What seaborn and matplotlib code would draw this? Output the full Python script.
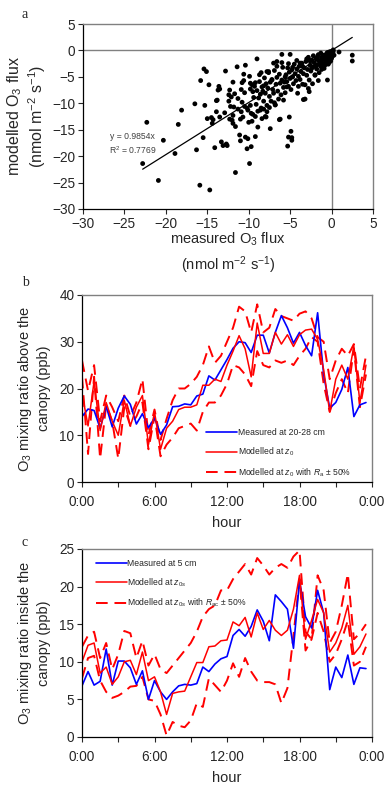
import numpy as np
import pandas as pd
import matplotlib
matplotlib.use("Agg")
import matplotlib.pyplot as plt
import seaborn as sns
from matplotlib.lines import Line2D

sns.set_style("ticks")
plt.rcParams['font.family'] = ['Liberation Sans', 'DejaVu Sans']
plt.rcParams['mathtext.fontset'] = 'custom'
plt.rcParams['mathtext.rm'] = 'Liberation Sans'
plt.rcParams['mathtext.it'] = 'Liberation Sans:italic'

# ---------------- panel a data (measured vs modelled O3 flux) ----------------
measured_flux = [
    -22.8, -22.3, -20.9, -20.3, -18.9, -18.5, -18.1, -16.5, -16.3, -15.9, -15.8, -15.5, -15.4, -15.3, -15.1,
    -15.0, -14.8, -14.7, -14.5, -14.4, -14.3, -14.1, -13.9, -13.8, -13.7, -13.6, -13.5, -13.3, -13.1, -12.8,
    -12.7, -12.6, -12.3, -12.2, -12.1, -12.0, -11.9, -11.8, -11.6, -11.4, -11.3, -11.1, -11.0, -11.0, -10.9,
    -10.6, -10.6, -10.4, -10.4, -10.2, -10.1, -9.9, -9.7, -9.2, -9.0, -8.9, -7.4, -6.3, -6.0, -5.0,
    -5.1, -5.2, -4.9, -4.8, -4.8, -5.3, -1.6, 0.9, 2.5, 2.5,
    -13.5, -13.9, -12.3, -12.4, -11.9, -10.8, -9.8, -9.5, -8.7, -8.2, -7.6, -7.2, -6.6, -5.6, -5.4,
    -2.0, -0.5, -2.7, -3.4, -10.5, -10.1, -9.7, -9.2, -8.6, -8.0, -7.8, -6.8, -6.2, -11.6,
    -9.8, -9.6, -9.4, -9.3, -9.1, -9.0, -8.8, -8.7, -8.6, -8.5, -8.4, -8.3, -8.2, -8.1, -8.0,
    -7.9, -7.8, -7.7, -7.6, -7.5, -7.4, -7.3, -7.2, -7.1, -7.0, -6.9, -6.8, -6.7, -6.6, -6.5,
    -6.4, -6.3, -6.2, -6.1, -6.0, -5.9, -5.8, -5.7, -5.6, -5.5, -5.4, -5.3, -5.2, -5.1, -5.0,
    -4.9, -4.8, -4.7, -4.6, -4.5, -4.4, -4.3, -4.2, -4.1, -4.0, -3.9, -3.8, -3.7, -3.6, -3.5,
    -3.4, -3.3, -3.2, -3.1, -3.0, -2.9, -2.8, -2.7, -2.6, -2.5, -2.4, -2.3, -2.2, -2.1, -2.0,
    -1.9, -1.8, -1.7, -1.6, -1.5, -1.4, -1.3, -1.2, -1.1, -1.0, -0.9, -0.8, -0.7, -0.6, -0.5,
    -0.4, -0.3, -0.2, -0.1, 0.0, 0.1, 0.2, 0.3,
    -2.2, -1.9, -1.6, -1.3, -1.1, -0.9, -0.8, -0.6, -0.5, -0.4, -0.3, -0.2, -0.1, 0.0, 0.1,
    -2.6, -3.0, -3.5, -2.4, -1.7, -1.4, -1.2, -0.7, -0.3, 0.2, -3.8, -4.2, -4.7, -5.2, -6.0,
    -6.6, -7.0, -7.8, -8.5, -3.2, -2.8, -4.0, -5.8, -6.9, -7.5, -8.2, -8.9, -9.5, -7.9, -8.4,
    -9.8, -10.2, -10.8, -11.3, -10.5, -9.9, -9.2, -10.9, -11.7, -12.4, -12.9, -11.9, -10.7, -9.6, -10.0,
]
modelled_flux = [
    -21.4, -13.6, -24.6, -17.0, -19.5, -14.0, -11.3, -10.1, -18.8, -25.5, -5.7, -16.5, -3.5, -10.4, -4.0,
    -12.9, -6.5, -26.4, -12.7, -13.8, -13.1, -18.4, -11.6, -9.4, -7.5, -6.8, -12.6, -17.3, -18.0, -3.9,
    -17.7, -18.0, -13.0, -10.6, -8.8, -13.2, -13.8, -10.7, -23.1, -3.1, -11.1, -16.0, -17.1, -13.0, -11.6,
    -5.7, -4.5, -2.8, -16.4, -18.6, -16.7, -21.4, -18.2, -16.3, -1.6, -14.5, -14.8, -13.1, -0.75, -0.75,
    -12.6, -16.4, -15.3, -16.5, -17.0, -18.1, -5.7, -0.3, -0.9, -2.0,
    -7.3, -9.5, -7.5, -8.4, -6.0, -6.1, -6.2, -7.8, -4.6, -6.7, -4.2, -5.6, -2.1, -5.0, -6.9,
    -4.7, -5.6, -7.8, -9.3, -10.6, -11.3, -11.9, -12.5, -11.3, -12.5, -11.6, -10.3, -13.0, -14.4,
    -7.3, -6.5, -8.9, -6.8, -10.2, -7.6, -9.0, -5.9, -8.3, -10.9, -6.9, -7.7, -9.6, -5.2, -8.1,
    -6.3, -10.4, -7.1, -4.0, -8.7, -6.0, -9.6, -5.5, -7.4, -8.1, -3.8, -10.3, -6.4, -5.1, -7.7,
    -9.2, -4.5, -6.2, -8.4, -5.6, -3.2, -7.0, -6.0, -8.0, -4.6, -5.9, -3.3, -6.8, -4.1, -5.3,
    -7.4, -3.7, -5.0, -6.3, -2.6, -4.4, -5.7, -3.5, -8.1, -4.9, -3.0, -5.5, -4.0, -2.4, -6.4,
    -4.4, -3.3, -9.2, -2.1, -4.7, -3.6, -1.3, -5.6, -2.8, -3.9, -1.8, -6.3, -3.1, -2.3, -4.6,
    -1.5, -3.5, -2.7, -0.8, -4.2, -2.0, -3.0, -1.3, -2.4, -0.9, -3.4, -1.6, -2.1, -0.6, -1.2,
    -2.6, -0.3, -1.0, -0.2, -1.5, -0.5, 0.1, -0.9,
    -1.0, -2.9, -1.9, -0.5, -1.7, -1.1, -2.8, -1.5, -0.4, -1.8, -1.3, -0.6, -2.0, -0.3, -1.1,
    -2.0, -1.6, -3.0, -3.4, -1.2, -2.6, -3.6, -0.9, -2.3, -0.2, -2.4, -1.9, -3.2, -2.5, -2.3,
    -3.0, -2.4, -4.0, -4.2, -6.5, -7.2, -6.8, -9.4, -9.9, -10.8, -11.1, -11.5, -12.1, -12.6, -12.9,
    -10.4, -10.9, -9.8, -9.1, -8.0, -4.9, -6.1, -7.4, -8.2, -9.6, -11.8, -12.3, -12.6, -13.4, -13.6,
]
slope = 0.9854
r2 = 0.7769

# ---------------- panel b / c data (half-hourly) ----------------
hours = [h * 0.5 for h in range(48)]

b_measured = [14.0, 15.6, 15.3, 11.5, 16.2, 11.8, 15.8, 18.4, 16.6, 12.4, 14.6, 11.6, 13.7, 10.2, 12.2, 16.1,
              16.2, 16.7, 16.5, 18.4, 18.8, 22.7, 21.8, 24.0, 26.2, 28.6, 30.0, 29.8, 27.7, 31.4, 31.4, 27.6,
              32.0, 35.6, 33.0, 29.7, 32.0, 29.2, 27.0, 36.2, 23.0, 15.8, 17.0, 19.8, 24.5, 14.0, 16.5, 17.0]
b_modelled = [19.0, 12.0, 21.5, 11.0, 17.0, 13.0, 10.0, 17.5, 12.0, 16.0, 18.5, 8.0, 15.0, 7.0, 11.5, 13.0,
              15.5, 16.0, 16.0, 16.5, 20.7, 20.7, 22.0, 21.5, 25.0, 28.0, 31.3, 28.5, 22.5, 34.0, 27.5, 27.5,
              32.0, 29.5, 31.5, 29.0, 31.5, 32.5, 32.7, 30.5, 24.0, 15.0, 22.0, 25.0, 22.0, 29.0, 17.0, 25.0]
b_upper = [26.0, 19.5, 25.0, 13.0, 18.5, 16.0, 13.0, 18.5, 14.0, 17.0, 22.0, 10.0, 15.5, 9.0, 13.5, 17.5,
           20.0, 20.0, 21.0, 22.5, 25.0, 29.0, 25.5, 27.0, 30.0, 33.0, 37.5, 36.5, 32.0, 38.0, 32.0, 33.0,
           37.0, 35.5, 35.0, 34.5, 36.0, 36.5, 35.0, 31.0, 30.0, 22.0, 26.0, 28.5, 27.0, 29.5, 20.0, 27.0]
b_lower = [22.5, 6.0, 22.5, 5.0, 16.5, 13.0, 5.0, 16.0, 12.0, 14.0, 17.0, 7.0, 14.0, 5.5, 8.0, 9.5,
           11.5, 12.0, 12.5, 11.0, 15.0, 17.0, 17.0, 18.5, 21.0, 25.0, 24.5, 23.0, 20.5, 28.0, 25.0, 24.5,
           26.0, 25.5, 26.0, 25.0, 27.0, 28.5, 31.0, 30.0, 21.0, 15.0, 19.0, 22.0, 19.0, 28.5, 16.0, 23.0]

c_measured = [6.8, 8.7, 6.9, 7.4, 11.7, 6.9, 10.1, 10.1, 9.2, 7.0, 8.8, 5.0, 7.5, 6.0, 5.0, 6.0,
              6.8, 7.0, 6.9, 7.1, 9.3, 8.7, 9.7, 10.4, 10.7, 13.5, 14.3, 13.4, 14.7, 16.9, 15.4, 12.8,
              18.9, 18.0, 17.0, 11.8, 20.8, 16.0, 14.5, 19.5, 16.5, 6.3, 9.3, 7.9, 10.9, 7.0, 9.2, 9.1]
c_modelled = [10.0, 12.2, 12.5, 8.5, 9.3, 7.0, 8.0, 10.0, 10.2, 8.3, 11.3, 7.5, 8.0, 6.0, 3.0, 5.8,
              6.0, 6.1, 8.0, 9.9, 9.9, 12.0, 12.1, 12.8, 12.9, 15.3, 14.8, 15.9, 13.3, 16.5, 14.3, 15.5,
              14.2, 13.5, 14.2, 17.0, 21.5, 13.0, 15.5, 18.3, 16.5, 11.3, 12.5, 14.5, 17.5, 11.0, 12.0, 13.7]
c_upper = [12.0, 13.5, 14.0, 10.5, 12.5, 9.0, 11.0, 14.1, 13.8, 10.5, 12.8, 9.5, 11.0, 9.0, 8.5, 9.5,
           10.5, 11.5, 12.5, 14.0, 16.0, 17.0, 17.5, 19.5, 19.5, 21.0, 22.0, 23.0, 21.6, 23.8, 22.8, 21.6,
           22.5, 23.0, 22.5, 24.0, 24.8, 14.0, 13.0, 21.5, 19.5, 12.5, 14.0, 17.5, 21.7, 13.0, 13.8, 15.0]
c_lower = [7.8, 10.5, 10.8, 7.5, 6.0, 5.2, 5.5, 6.0, 6.7, 6.8, 8.0, 5.0, 4.8, 3.0, 0.2, 2.0,
           1.5, 1.3, 2.2, 4.5, 4.0, 7.8, 6.9, 6.0, 7.5, 9.8, 8.0, 10.5, 8.7, 7.5, 7.3, 7.3,
           7.0, 4.5, 6.5, 13.5, 21.0, 11.5, 13.0, 16.5, 14.0, 10.0, 11.0, 13.0, 15.5, 9.5, 10.0, 12.0]

hour_ticks = [0, 6, 12, 18, 24]
hour_labels = ["0:00", "6:00", "12:00", "18:00", "0:00"]

# ---------------- figure ----------------
W, H = 385, 787
fig = plt.figure(figsize=(W / 100, H / 100), dpi=100)

def px_axes(left, top, right, bottom):
    return fig.add_axes([left / W, 1 - bottom / H, (right - left) / W, (bottom - top) / H])

TICK_FS = 9.8
LAB_FS = 10.5
LEG_FS = 6.2
GREY = '#808080'

def style_frame(ax):
    for s in ['left', 'bottom']:
        ax.spines[s].set_color('black')
        ax.spines[s].set_linewidth(0.9)
    for s in ['top', 'right']:
        ax.spines[s].set_visible(True)
        ax.spines[s].set_color(GREY)
        ax.spines[s].set_linewidth(1.0)
    ax.tick_params(axis='both', direction='out', length=3.5, width=0.8, labelsize=TICK_FS, pad=2)
    ax.tick_params(axis='both', which='minor', direction='out', length=3.5, width=0.8)

# ---- panel a ----
axa = px_axes(83, 24, 373, 209)
dfa = pd.DataFrame({'measured': measured_flux, 'modelled': modelled_flux})
sns.scatterplot(data=dfa, x='measured', y='modelled', ax=axa, color='black', s=12,
                edgecolor='none', linewidth=0)
axa.axhline(0, color=GREY, lw=1.0, zorder=0)
axa.axvline(0, color=GREY, lw=1.0, zorder=0)
xr = np.array([min(measured_flux), max(measured_flux)])
axa.plot(xr, slope * xr, color='black', lw=0.9)
axa.set_xlim(-30, 5)
axa.set_ylim(-30, 5)
axa.set_xticks(range(-30, 6, 5))
axa.set_yticks(range(-30, 6, 5))
axa.set_xlabel("measured O$_3$ flux\n\n(nmol m$^{-2}$ s$^{-1}$)", fontsize=LAB_FS, linespacing=0.72, labelpad=0)
axa.set_ylabel("modelled O$_3$ flux\n(nmol m$^{-2}$ s$^{-1}$)", fontsize=11.5, linespacing=1.15, labelpad=3)
axa.text(-26.8, -16.2, "y = 0.9854x", fontsize=6.2, color='#404040', va='center')
axa.text(-26.9, -18.8, "R$^2$ = 0.7769", fontsize=6.2, color='#404040', va='center')
style_frame(axa)
fig.text(22 / W, 1 - 15 / H, "a", fontsize=10, family='Liberation Serif', va='center')

# ---- time-series panels ----
def ts_panel(ax, meas, mod, up, lo, ylim, yticks):
    df = pd.DataFrame({'hour': hours, 'measured': meas, 'modelled': mod, 'upper': up, 'lower': lo})
    sns.lineplot(data=df, x='hour', y='upper', ax=ax, color='red', lw=1.4)
    sns.lineplot(data=df, x='hour', y='lower', ax=ax, color='red', lw=1.4)
    for ln in ax.get_lines():
        ln.set_dashes((6, 3.5))
    sns.lineplot(data=df, x='hour', y='measured', ax=ax, color='blue', lw=1.2)
    sns.lineplot(data=df, x='hour', y='modelled', ax=ax, color='red', lw=1.1)
    ax.set_xlim(0, 24)
    ax.set_ylim(*ylim)
    ax.set_yticks(yticks)
    ax.set_xticks(hour_ticks)
    ax.set_xticklabels(hour_labels)
    ax.set_xticks([3, 9, 15, 21], minor=True)
    ax.set_xlabel("hour", fontsize=LAB_FS, labelpad=5)
    style_frame(ax)
    ax.tick_params(axis='x', pad=6)

axb = px_axes(82, 295, 372, 482)
ts_panel(axb, b_measured, b_modelled, b_upper, b_lower, (0, 40), [0, 10, 20, 30, 40])
axb.set_ylabel("O$_3$ mixing ratio above the\ncanopy (ppb)", fontsize=LAB_FS, linespacing=1.3, labelpad=6)
handles_b = [Line2D([], [], color='blue', lw=1.2),
             Line2D([], [], color='red', lw=1.1),
             Line2D([], [], color='red', lw=1.4, dashes=(6, 3.5))]
axb.legend(handles_b, ["Measured at 20-28 cm", "Modelled at $z_0$",
                       "Modelled at $z_0$ with $\\mathit{R}_\\mathrm{a}$ \u00b1 50%"],
           loc='upper left', bbox_to_anchor=(0.415, 0.305), frameon=False, fontsize=LEG_FS,
           handlelength=3.6, handletextpad=0.1, labelspacing=0.95, borderaxespad=0)
fig.text(22 / W, 1 - 282 / H, "b", fontsize=10, family='Liberation Serif', va='center')

axc = px_axes(82, 549, 372, 737)
ts_panel(axc, c_measured, c_modelled, c_upper, c_lower, (0, 25), [0, 5, 10, 15, 20, 25])
axc.set_ylabel("O$_3$ mixing ratio inside the\ncanopy (ppb)", fontsize=LAB_FS, linespacing=1.3, labelpad=6)
handles_c = [Line2D([], [], color='blue', lw=1.2),
             Line2D([], [], color='red', lw=1.1),
             Line2D([], [], color='red', lw=1.4, dashes=(6, 3.5))]
axc.legend(handles_c, ["Measured at 5 cm", "Modelled at $z_{0s}$",
                       "Modelled at $z_{0s}$ with $\\mathit{R}_\\mathrm{ac}$ \u00b1 50%"],
           loc='upper left', bbox_to_anchor=(0.035, 0.965), frameon=False, fontsize=LEG_FS,
           handlelength=3.6, handletextpad=0.1, labelspacing=0.95, borderaxespad=0)
fig.text(22 / W, 1 - 542 / H, "c", fontsize=10, family='Liberation Serif', va='center')

fig.savefig("out.png", dpi=100)
